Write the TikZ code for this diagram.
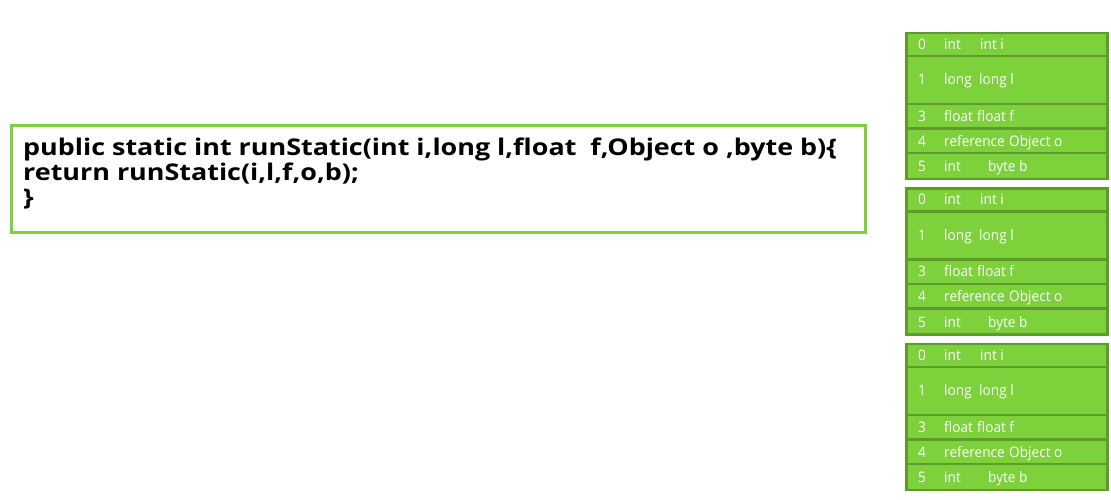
\documentclass[tikz,border=0pt]{standalone}
\usepackage{fontspec}
\setmainfont{Open Sans}
\usetikzlibrary{positioning}
\definecolor{slotgreen}{HTML}{7DD13B}
\definecolor{slotedge}{HTML}{5E9A2C}
\definecolor{codeedge}{HTML}{7ED13B}

\begin{document}
\begin{tikzpicture}[x=1pt,y=-1pt,
  codebox/.style={draw=codeedge,line width=2.5pt,inner sep=0pt,outer sep=0pt,anchor=north west},
  codeline/.style={anchor=base west,inner sep=0pt,
                   font=\addfontfeature{FakeStretch=1.17}\bfseries\fontsize{23}{25}\selectfont},
  slot/.style={draw=slotedge,fill=slotgreen,line width=2.2pt,inner sep=0pt,outer sep=0pt,
               anchor=north west,minimum width=201pt},
  slottext/.style={anchor=base west,inner sep=0pt,text=white,
                   font=\addfontfeature{FakeStretch=0.94}\fontsize{14.5}{16}\selectfont}]
\useasboundingbox (0,0) rectangle (1111,499);
% the method
\node[codebox,minimum width=854pt,minimum height=107pt] (code) at (11.25,125.25) {};
\node[codeline] (line1) at (23,155) {public static int runStatic(int i,long l,float\ \ f,Object o ,byte b)\{};
\node[codeline] (line2) at (23,180) {return runStatic(i,l,f,o,b);};
\node[codeline] (line3) at (23,205) {\}};
% three copies of the local variable table
\foreach \s/\dy in {a/0,b/155.5,c/311}{
  \begin{scope}[yshift=-\dy pt]
  \node[slot,minimum height=23pt] (\s0) at (906.5,33) {};
  \node[slot,minimum height=48pt] (\s1) at (906.5,56) {};
  \node[slot,minimum height=24.5pt] (\s3) at (906.5,104) {};
  \node[slot,minimum height=24.5pt] (\s4) at (906.5,128.5) {};
  \node[slot,minimum height=26pt] (\s5) at (906.5,153) {};
  \node[slottext] (\s0i) at (918,49) {0};
  \node[slottext] (\s0t) at (944,49) {int};
  \node[slottext] (\s0n) at (980,49) {int i};
  \node[slottext] (\s1i) at (918,84.7) {1};
  \node[slottext] (\s1t) at (944,84.7) {long};
  \node[slottext] (\s1n) at (979,84.7) {long l};
  \node[slottext] (\s3i) at (918,121) {3};
  \node[slottext] (\s3t) at (944,121) {float};
  \node[slottext] (\s3n) at (977,121) {float f};
  \node[slottext] (\s4i) at (918,146) {4};
  \node[slottext] (\s4t) at (944,146) {reference};
  \node[slottext] (\s4n) at (1009,146) {Object o};
  \node[slottext] (\s5i) at (918,171.5) {5};
  \node[slottext] (\s5t) at (944,171.5) {int};
  \node[slottext] (\s5n) at (988,171.5) {byte b};
  \end{scope}
}
\end{tikzpicture}
\end{document}
